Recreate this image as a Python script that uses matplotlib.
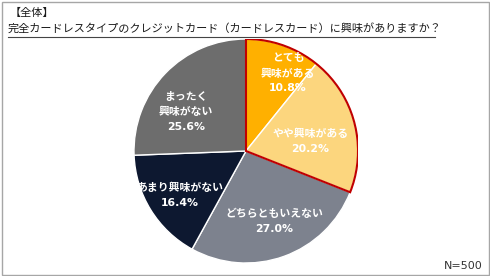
import matplotlib.pyplot as plt
import numpy as np
from matplotlib.patches import Wedge, Rectangle
from matplotlib.lines import Line2D

plt.rcParams['font.family'] = ['Noto Sans CJK JP', 'DejaVu Sans']
num_font = ['DejaVu Sans', 'Noto Sans CJK JP']  # wider digits, like the original

# data
labels = ['とても\n興味がある', 'やや興味がある', 'どちらともいえない', 'あまり興味がない', 'まったく\n興味がない']
values = [10.8, 20.2, 27.0, 16.4, 25.6]
colors = ['#FFB000', '#FCD67E', '#7D828E', '#0D1830', '#6D6D6D']
label_r = [0.79, 0.58, 0.68, 0.71, 0.64]
label_shift = [-9, -6, 2, 2, 11]  # degrees, nudge labels like the original

fig = plt.figure(figsize=(4.9, 2.76), dpi=100)
fig.patch.set_facecolor('white')

# frame around the whole image
fig.add_artist(Rectangle((1.5 / 490, 1.5 / 276), 487 / 490, 273 / 276, transform=fig.transFigure,
                         fill=False, edgecolor='#A6A6A6', lw=1.0))

fig.text(10 / 490, 1 - 13 / 276, '【全体】', fontsize=8, color='#1A1A1A', va='center', ha='left')
fig.text(8 / 490, 1 - 28 / 276, '完全カードレスタイプのクレジットカード（カードレスカード）に興味がありますか？',
         fontsize=8, color='#1A1A1A', va='center', ha='left')
fig.add_artist(Line2D([8 / 490, 435 / 490], [1 - 37 / 276, 1 - 37 / 276], transform=fig.transFigure,
                      color='#444444', lw=0.8))

cx, cy, r = 246, 151, 112
ax = fig.add_axes([(cx - r) / 490, (276 - cy - r) / 276, 2 * r / 490, 2 * r / 276])
wedges, _ = ax.pie(values, colors=colors, startangle=90, counterclock=False, radius=1,
                   wedgeprops=dict(edgecolor='white', linewidth=1.0))

# red outline around the "interested" group
top = (values[0] + values[1]) / 100 * 360
ax.add_patch(Wedge((0, 0), 1, 90 - top, 90, fill=False, edgecolor='#C00000', lw=1.5, zorder=5))

for i, w in enumerate(wedges):
    mid = np.deg2rad((w.theta1 + w.theta2) / 2 + label_shift[i])
    x = label_r[i] * np.cos(mid)
    y = label_r[i] * np.sin(mid)
    ax.text(x, y, f'{labels[i]}\n{values[i]:.1f}%', ha='center', va='center', color='white',
            fontsize=7.8, fontweight='bold', linespacing=1.6, zorder=6, family=num_font)

ax.set_xlim(-1, 1)
ax.set_ylim(-1, 1)
ax.set_aspect('equal')
ax.axis('off')

fig.text(483 / 490, 1 - 266 / 276, 'N=500', fontsize=8, color='#333333', ha='right', va='center',
         family=num_font)

fig.savefig('out.png', dpi=100)
